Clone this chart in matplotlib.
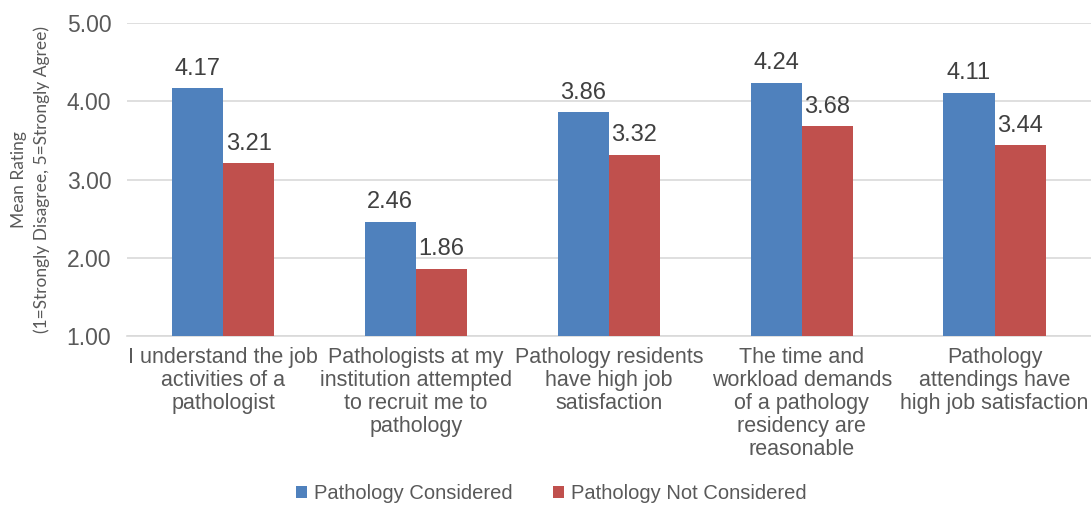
import numpy as np
import matplotlib.pyplot as plt

plt.rcParams['font.family'] = ['Liberation Sans', 'DejaVu Sans']

categories = [
    "I understand the job\nactivities of a\npathologist",
    "Pathologists at my\ninstitution attempted\nto recruit me to\npathology",
    "Pathology residents\nhave high job\nsatisfaction",
    "The time and\nworkload demands\nof a pathology\nresidency are\nreasonable",
    "Pathology\nattendings have\nhigh job satisfaction",
]
considered = [4.17, 2.46, 3.86, 4.24, 4.11]
not_considered = [3.21, 1.86, 3.32, 3.68, 3.44]

blue = '#4F81BD'
red = '#C0504D'
text_col = '#595959'

fig = plt.figure(figsize=(10.91, 5.16), dpi=100)
ax = fig.add_axes([0.116, 0.349, 0.884, 0.606])

x = np.arange(len(categories))
w = 0.265
b1 = ax.bar(x - w / 2, considered, w, color=blue, label='Pathology Considered', zorder=3)
b2 = ax.bar(x + w / 2, not_considered, w, color=red, label='Pathology Not Considered', zorder=3)

# value labels above each bar
for bars, vals in [(b1, considered), (b2, not_considered)]:
    for rect, v in zip(bars, vals):
        ax.annotate(f'{v:.2f}', (rect.get_x() + rect.get_width() / 2, v),
                    xytext=(0, 6), textcoords='offset points',
                    ha='center', va='bottom', fontsize=17, color='#404040')

ax.set_ylim(1, 5)
ax.set_xlim(-0.5, len(categories) - 0.5)
ax.set_yticks([1, 2, 3, 4, 5])
ax.set_yticklabels([f'{t:.2f}' for t in [1, 2, 3, 4, 5]])
ax.yaxis.grid(True, color='#d9d9d9', linewidth=1.2, zorder=0)
ax.set_axisbelow(True)
for s in ['top', 'right', 'left']:
    ax.spines[s].set_visible(False)
ax.spines['bottom'].set_color('#d9d9d9')
ax.spines['bottom'].set_linewidth(1.2)
ax.tick_params(axis='y', length=0, labelsize=16.5, labelcolor=text_col, pad=11)
ax.tick_params(axis='x', length=0, labelsize=15.5, labelcolor=text_col, pad=8)
ax.set_xticks(x)
ax.set_xticklabels(categories, linespacing=1.12, va='top')

ax.set_ylabel('Mean Rating\n(1=Strongly Disagree, 5=Strongly Agree)',
              fontsize=12.5, family=['Lato', 'DejaVu Sans'], color=text_col,
              labelpad=12, linespacing=1.45)

fig.legend(loc='lower center', bbox_to_anchor=(0.505, -0.01), ncol=2,
           frameon=False, fontsize=14.5, handlelength=0.55, handleheight=0.55,
           handletextpad=0.35, columnspacing=2.0, labelcolor=text_col)

fig.savefig('out.png', dpi=100)
